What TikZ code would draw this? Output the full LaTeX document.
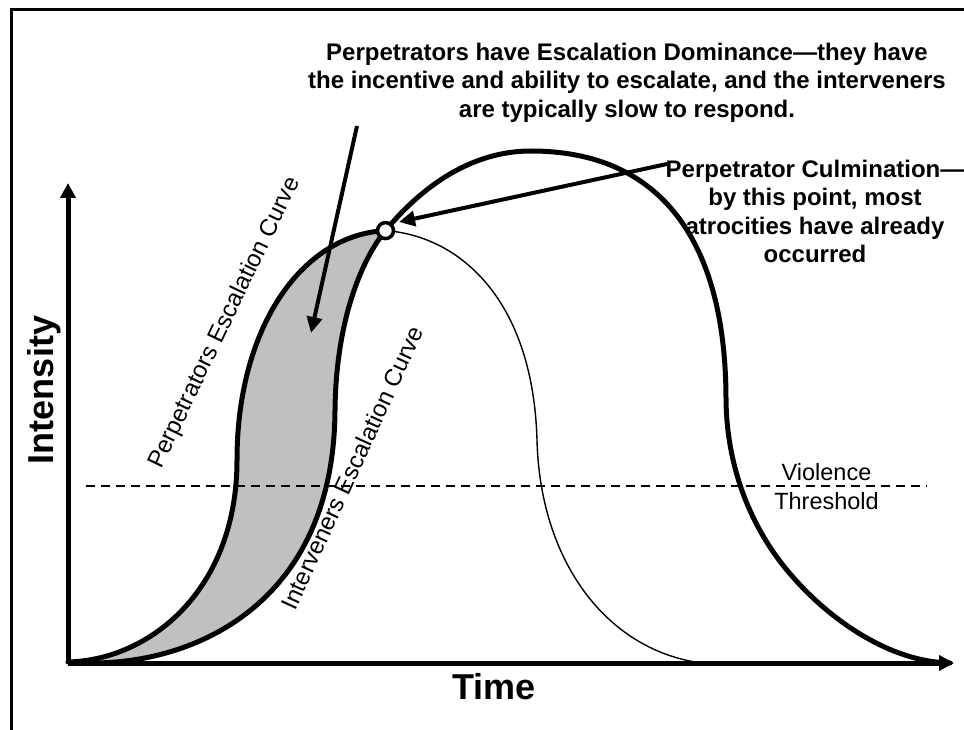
\documentclass[tikz,border=0pt]{standalone}
\usepackage{fontspec}
\setmainfont{Liberation Sans}
\usetikzlibrary{arrows.meta}

\definecolor{shadegray}{HTML}{C0C0C0}

\begin{document}
\begin{tikzpicture}[x=1pt,y=-1pt,
  frameline/.style={line width=3pt},
  axisline/.style={line width=5pt,-{Triangle[length=15pt,width=15pt]}},
  thickcurve/.style={line width=5pt,line join=round,line cap=round},
  thincurve/.style={line width=1.4pt},
  threshold/.style={line width=1.4pt,dash pattern=on 9pt off 6pt},
  pointer/.style={line width=4pt,-{Triangle[length=16pt,width=15pt]}},
  boldnote/.style={font=\fontsize{24}{28.3}\selectfont\bfseries,align=center,inner sep=0pt,anchor=north},
  curvelabel/.style={font=\fontsize{24}{28}\selectfont,anchor=base west,inner sep=0pt},
  axislabel/.style={font=\fontsize{36}{40}\selectfont\bfseries,inner sep=0pt},
]
\useasboundingbox (0,0) rectangle (964,730);

% outer frame (top and left edges)
\draw[frameline] (964,9.3) -- (11.7,9.3) -- (11.7,730);

% key points of the curves
\coordinate (p0) at (68,662);
\coordinate (pmid) at (237,460);
\coordinate (culmpt) at (385.5,230.6);
\coordinate (i0) at (95,663);
\coordinate (imid) at (335,410);
\coordinate (itop) at (531,151);
\coordinate (iside) at (726,400);
\coordinate (ilow) at (792,576);
\coordinate (iend) at (950,663);
\coordinate (tmid) at (537,440);
\coordinate (tend) at (698,662.5);

% shaded band between the two rising curves
\fill[shadegray]
  (p0) .. controls (150,660) and (237,590) .. (pmid)
       .. controls (237,330) and (300,235) .. (culmpt)
       .. controls (362,259) and (336,320) .. (imid)
       .. controls (334,600) and (200,662) .. (i0) -- cycle;

% perpetrators curve after culmination (thin)
\draw[thincurve] (culmpt) .. controls (460,236) and (533,300) .. (tmid)
                          .. controls (540,560) and (605,648) .. (tend);

% violence threshold
\draw[threshold] (86,486) -- (927,486);

% perpetrators escalation curve (thick, rising part)
\draw[thickcurve] (p0) .. controls (150,660) and (237,590) .. (pmid)
                       .. controls (237,330) and (300,235) .. (culmpt);

% interveners escalation curve
\draw[thickcurve] (i0) .. controls (200,662) and (334,600) .. (imid)
                       .. controls (336,320) and (362,259) .. (culmpt)
                       .. controls (410,201) and (460,151) .. (itop)
                       .. controls (660,151) and (726,240) .. (iside)
                       .. controls (727,480) and (760,540) .. (ilow)
                       .. controls (830,620) and (890,662) .. (iend);

% axes
\coordinate (origin) at (68,663);
\coordinate (xend) at (954,663);
\coordinate (yend) at (68,183);
\draw[axisline] (origin) -- (xend);
\draw[axisline] (origin) -- (yend);

% culmination marker
\node[circle,draw,line width=3.5pt,fill=white,minimum size=16pt,inner sep=0pt] (peak) at (culmpt) {};

% axis labels
\node[axislabel,rotate=90] (ylab) at (44.5,390) {Intensity};
\node[axislabel] (xlab) at (494,687) {Time};

% threshold label
\node[font=\fontsize{23.5}{29}\selectfont,align=center,inner sep=0pt,anchor=north] (thr) at (826.5,463) {Violence\\Threshold};

% curve labels
\node[curvelabel,rotate=64.3] (perplab) at (161,470) {Perpetrators Escalation Curve};
\node[curvelabel,rotate=65.3] (intlab) at (295.5,611.5) {Interveners Escalation Curve};

% annotations
\node[boldnote] (dom) at (627,43) {Perpetrators have Escalation Dominance\textemdash they have\\the incentive and ability to escalate, and the interveners\\are typically slow to respond.};
\node[boldnote] (culm) at (815,160) {Perpetrator Culmination\textemdash\\by this point, most\\atrocities have already\\occurred};

\coordinate (domtail) at (357,126);
\coordinate (domtip) at (311,333);
\draw[pointer] (domtail) -- (domtip);

\coordinate (culmtail) at (667,164);
\coordinate (culmtip) at (399,222);
\draw[pointer] (culmtail) -- (culmtip);
\end{tikzpicture}
\end{document}
